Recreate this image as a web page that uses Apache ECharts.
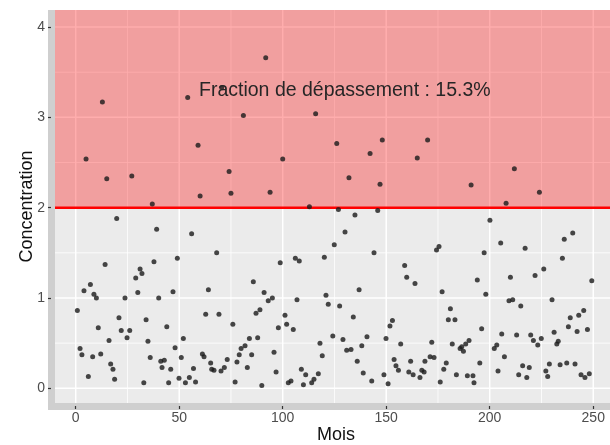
<!DOCTYPE html>
<html>
<head>
<meta charset="utf-8">
<script src="https://cdn.jsdelivr.net/npm/echarts@6/dist/echarts.min.js"></script>
<style>
  html, body { margin: 0; padding: 0; background: #ffffff; }
  #chart { width: 610px; height: 445px; }
</style>
</head>
<body>
<div id="chart"></div>
<script>
// Monthly concentration measurements (month index, concentration)
const months = [
  0.8, 2.1, 3.0, 4.0, 5.0, 6.1, 7.1, 8.2, 8.8, 10.0,
  10.9, 12.1, 12.9, 14.2, 15.0, 16.1, 16.9, 18.0, 18.8, 19.8,
  20.9, 22.0, 23.8, 24.8, 26.1, 27.1, 29.0, 30.0, 31.1, 32.0,
  32.9, 34.0, 34.9, 36.0, 37.0, 37.8, 39.1, 40.1, 41.1, 41.7,
  42.8, 44.0, 44.9, 45.9, 47.0, 48.0, 49.1, 49.9, 51.0, 52.0,
  53.0, 54.1, 54.9, 56.0, 56.9, 57.9, 59.1, 60.1, 61.2, 62.0,
  62.8, 64.1, 65.2, 65.7, 66.8, 68.1, 69.2, 70.2, 70.5, 71.8,
  73.2, 74.1, 75.0, 75.9, 77.0, 77.9, 79.0, 79.9, 81.0, 81.8,
  82.9, 83.9, 85.0, 85.8, 87.1, 87.9, 89.0, 89.9, 91.0, 91.8,
  93.0, 93.9, 95.0, 95.8, 96.8, 97.9, 98.8, 100.0, 101.1, 101.9,
  102.7, 104.0, 105.1, 106.1, 106.9, 108.0, 109.0, 110.0, 111.1, 112.9,
  114.0, 115.1, 115.9, 117.2, 118.0, 119.1, 120.1, 120.9, 122.0, 124.2,
  124.9, 126.1, 126.9, 127.5, 129.1, 130.1, 130.9, 132.0, 133.0, 134.1,
  134.9, 136.0, 136.9, 138.2, 138.9, 140.7, 142.2, 143.0, 144.1, 145.9,
  147.0, 148.1, 148.9, 149.9, 150.9, 151.8, 153.0, 153.8, 154.7, 155.9,
  157.0, 158.9, 159.9, 160.9, 161.8, 163.0, 163.9, 165.0, 166.3, 167.2,
  168.3, 168.7, 170.0, 171.2, 172.0, 173.1, 174.3, 175.5, 176.1, 177.0,
  177.8, 179.0, 180.0, 181.0, 181.9, 183.2, 183.9, 185.7, 186.5, 187.3,
  188.4, 189.2, 190.0, 191.0, 191.9, 192.4, 194.0, 195.2, 196.1, 197.3,
  198.1, 200.1, 202.2, 203.4, 204.0, 205.3, 205.8, 207.1, 207.9, 209.3,
  210.0, 211.1, 211.9, 213.0, 214.0, 215.0, 215.9, 217.1, 217.9, 219.1,
  219.8, 221.1, 221.9, 223.2, 224.0, 224.9, 226.1, 227.1, 228.0, 228.8,
  230.1, 231.1, 232.4, 233.1, 234.0, 235.1, 236.0, 237.2, 238.0, 238.9,
  240.1, 241.2, 242.2, 243.0, 244.1, 245.4, 246.0, 247.2, 248.1, 249.3
];
const concentration = [
  0.86, 0.44, 0.37, 1.08, 2.54, 0.13, 1.15, 0.35, 1.04, 1.00,
  0.67, 0.38, 3.17, 1.37, 2.32, 0.53, 0.27, 0.21, 0.10, 1.88,
  0.78, 0.64, 1.00, 0.56, 0.64, 2.35, 1.22, 1.06, 1.32, 1.27,
  0.06, 0.76, 0.52, 0.34, 2.04, 1.40, 1.76, 1.00, 0.30, 0.23,
  0.31, 0.68, 0.06, 0.21, 1.07, 0.45, 1.44, 0.11, 0.34, 0.55,
  0.06, 3.22, 0.12, 1.71, 0.22, 0.07, 2.69, 2.13, 0.38, 0.35,
  0.82, 1.09, 0.28, 0.21, 0.20, 1.50, 0.82, 0.19, 3.33, 0.23,
  0.32, 2.40, 2.16, 0.71, 0.07, 0.29, 0.37, 0.44, 3.02, 0.47,
  0.23, 0.55, 0.37, 1.18, 0.83, 0.56, 0.87, 0.03, 1.06, 3.66,
  0.97, 2.17, 1.00, 0.40, 0.18, 0.67, 1.39, 2.54, 0.81, 0.71,
  0.06, 0.08, 0.65, 1.44, 0.98, 1.41, 0.21, 0.04, 0.15, 2.01,
  0.06, 0.10, 3.04, 0.16, 0.50, 0.36, 1.45, 1.03, 0.93, 0.58,
  1.59, 2.71, 1.98, 0.91, 0.54, 1.73, 0.42, 2.33, 0.43, 0.79,
  1.92, 0.30, 1.09, 0.47, 0.17, 0.57, 2.60, 0.08, 1.50, 1.97,
  2.26, 2.75, 0.15, 0.55, 0.05, 0.69, 0.75, 0.32, 0.25, 0.20,
  0.49, 1.36, 1.23, 0.18, 0.30, 0.15, 1.16, 2.55, 0.12, 0.20,
  0.18, 0.30, 2.75, 0.35, 0.51, 0.34, 1.53, 1.57, 0.07, 1.07,
  0.21, 0.28, 0.76, 0.88, 0.49, 0.76, 0.15, 0.44, 0.46, 0.41,
  0.49, 0.14, 0.53, 2.25, 0.14, 0.06, 1.20, 0.28, 0.66, 1.50,
  1.04, 1.86, 0.44, 0.48, 0.19, 1.61, 0.60, 0.35, 2.05, 0.97,
  1.23, 0.98, 2.43, 0.59, 0.15, 0.91, 0.25, 1.55, 0.12, 0.23,
  0.59, 0.53, 1.25, 0.48, 2.17, 0.55, 1.32, 0.19, 0.13, 0.27,
  0.98, 0.62, 0.49, 0.52, 0.26, 1.44, 1.65, 0.28, 0.68, 0.78,
  1.72, 0.27, 0.63, 0.81, 0.15, 0.86, 0.12, 0.65, 0.16, 1.19
];

// Axis tick values
const xTicks = [0, 50, 100, 150, 200, 250];
const xMinorTicks = [25, 75, 125, 175, 225];
const yTicks = [0, 1, 2, 3, 4];
const yMinorTicks = [0.5, 1.5, 2.5, 3.5];

// Regulatory threshold and share of values above it
const threshold = 2;
const exceedancePct = 15.3;

// Panel extents (data units)
const X_MIN = -10, X_MAX = 258.1;
const Y_MIN = -0.163, Y_MAX = 4.189;

const FONT = '"Liberation Sans", Arial, Helvetica, sans-serif';

const points = months.map((m, i) => [m, concentration[i]]);

// Grid lines as broken polylines: one segment per tick value, NaN rows split them
function gridSegments(xs, ys) {
  const out = [];
  ys.forEach(v => { out.push([X_MIN, v], [X_MAX, v], [NaN, NaN]); });
  xs.forEach(v => { out.push([v, Y_MIN], [v, Y_MAX], [NaN, NaN]); });
  return out;
}

const chart = echarts.init(document.getElementById('chart'), null, { renderer: 'canvas' });

const axisCommon = {
  type: 'value', z: 3, nameLocation: 'middle', nameMoveOverlap: false,
  axisLine: { show: false, onZero: false },
  splitLine: { show: false }
};

chart.setOption({
  animation: false,
  backgroundColor: '#ffffff',
  grid: [
    // darker frame strip along the left and bottom of the panel
    { left: 48, right: 0, top: 10, bottom: 35, z: 0,
      show: true, backgroundColor: '#CFCFCF', borderWidth: 0,
      containLabel: false, outerBoundsMode: 'none' },
    // plotting panel
    { left: 55, right: 0, top: 10, bottom: 42, z: 1,
      show: true, backgroundColor: '#EBEBEB', borderWidth: 0,
      containLabel: false, outerBoundsMode: 'none' }
  ],
  xAxis: [
    { gridIndex: 0, type: 'value', show: false, min: 0, max: 1 },
    Object.assign({}, axisCommon, {
      gridIndex: 1, min: X_MIN, max: X_MAX, offset: 3,
      name: 'Mois', nameGap: 20,
      nameTextStyle: { fontSize: 18, color: '#111', fontFamily: FONT, padding: [0, 0, 0, 7] },
      axisTick: { show: true, inside: false, length: 3, customValues: xTicks,
                  lineStyle: { color: '#333', width: 1.2 } },
      axisLabel: { customValues: xTicks, margin: 5, fontSize: 14, color: '#4D4D4D', fontFamily: FONT }
    })
  ],
  yAxis: [
    { gridIndex: 0, type: 'value', show: false, min: 0, max: 1 },
    Object.assign({}, axisCommon, {
      gridIndex: 1, min: Y_MIN, max: Y_MAX, offset: 4,
      name: 'Concentration', nameGap: 15,
      nameTextStyle: { fontSize: 18, color: '#111', fontFamily: FONT },
      axisTick: { show: true, inside: false, length: 3, customValues: yTicks,
                  lineStyle: { color: '#333', width: 1.2 } },
      axisLabel: { customValues: yTicks, margin: 6, fontSize: 14, color: '#4D4D4D', fontFamily: FONT }
    })
  ],
  series: [
    {
      // minor grid lines
      type: 'line', xAxisIndex: 1, yAxisIndex: 1, silent: true, z: 2,
      data: gridSegments(xMinorTicks, yMinorTicks),
      showSymbol: false, symbol: 'none', connectNulls: false,
      lineStyle: { color: '#FFFFFF', width: 0.8 },
      emphasis: { disabled: true }
    },
    {
      // major grid lines
      type: 'line', xAxisIndex: 1, yAxisIndex: 1, silent: true, z: 2,
      data: gridSegments(xTicks, yTicks),
      showSymbol: false, symbol: 'none', connectNulls: false,
      lineStyle: { color: '#FFFFFF', width: 1.5 },
      emphasis: { disabled: true }
    },
    {
      // threshold line with the exceedance zone shaded above it
      type: 'line', xAxisIndex: 1, yAxisIndex: 1, silent: true, z: 5,
      data: [[X_MIN, threshold], [X_MAX, threshold]],
      showSymbol: false, symbol: 'none',
      lineStyle: { color: '#FF0000', width: 2.5 },
      areaStyle: { color: 'rgba(255,0,0,0.32)', opacity: 1, origin: 'end' },
      emphasis: { disabled: true }
    },
    {
      name: 'Concentration',
      type: 'scatter', xAxisIndex: 1, yAxisIndex: 1, z: 8,
      data: points,
      symbol: 'circle', symbolSize: 5,
      itemStyle: { color: '#1A1A1A' },
      markPoint: {
        silent: true, z: 9,
        symbol: 'circle', symbolSize: 1,
        itemStyle: { color: 'rgba(0,0,0,0)' },
        label: {
          show: true, position: 'inside',
          fontSize: 19.5, color: '#262626', fontFamily: FONT,
          formatter: 'Fraction de dépassement : ' + exceedancePct + '%'
        },
        data: [{ coord: [130, 3.3] }]
      }
    }
  ]
});
</script>
</body>
</html>
